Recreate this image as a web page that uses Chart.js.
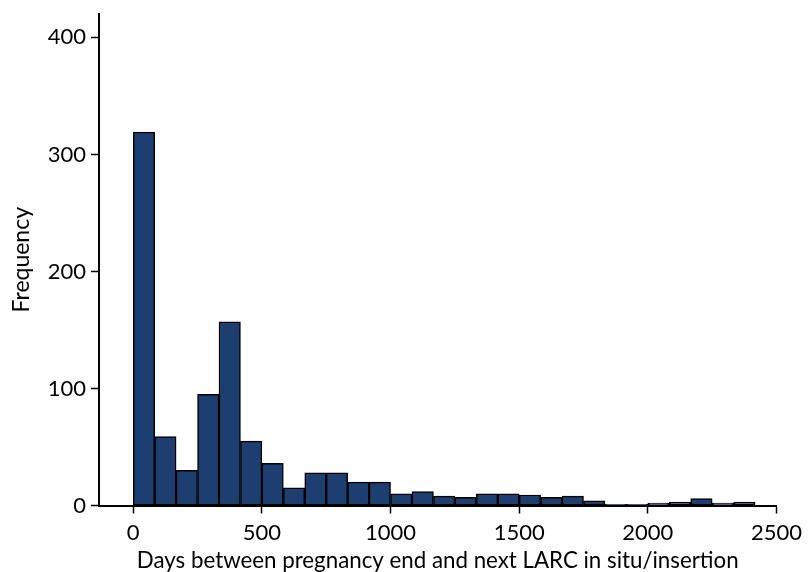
<!DOCTYPE html>
<html>
<head>
<meta charset="utf-8">
<script src="https://cdn.jsdelivr.net/npm/chart.js@4.4.1/dist/chart.umd.min.js"></script>
<style>
  html, body { margin: 0; padding: 0; background: #ffffff; }
  #wrap { width: 808px; height: 572px; }
</style>
</head>
<body>
<div id="wrap"><canvas id="c" width="808" height="572"></canvas></div>
<script>
// Histogram bins (days), bin width = 500/6 days
const binWidth = 500 / 6;
const binStarts = [0, 83.33, 166.67, 250, 333.33, 416.67, 500, 583.33, 666.67, 750,
  833.33, 916.67, 1000, 1083.33, 1166.67, 1250, 1333.33, 1416.67, 1500, 1583.33,
  1666.67, 1750, 1833.33, 1916.67, 2000, 2083.33, 2166.67, 2250, 2333.33];
const frequencies = [319, 59, 30, 95, 157, 55, 36, 15, 28, 28,
  20, 20, 10, 12, 8, 7, 10, 10, 9, 7,
  8, 4, 1, 1, 2, 3, 6, 2, 3];
const xTickValues = [0, 500, 1000, 1500, 2000, 2500];
const yTickValues = [0, 100, 200, 300, 400];
const xTitle = 'Days between pregnancy end and next LARC in situ/insertion';
const yTitle = 'Frequency';

const points = binStarts.map((s, i) => ({ x: s + binWidth / 2, y: frequencies[i] }));
const FONT = 'Lato';

new Chart(document.getElementById('c'), {
  type: 'bar',
  data: {
    datasets: [{
      data: points,
      backgroundColor: '#1c3e70',
      borderColor: '#000000',
      borderWidth: 1.5,
      borderSkipped: false,
      barPercentage: 1,
      categoryPercentage: 1
    }]
  },
  options: {
    responsive: false,
    animation: false,
    devicePixelRatio: 1,
    layout: { padding: { top: 14, right: 30, left: 0, bottom: 0 } },
    plugins: { legend: { display: false }, tooltip: { enabled: false } },
    scales: {
      x: {
        type: 'linear',
        min: -133,
        max: 2500,
        offset: false,
        grid: { offset: false, drawOnChartArea: false, drawTicks: true, tickLength: 8, tickWidth: 1.5, tickColor: '#000' },
        border: { display: true, color: '#000', width: 2 },
        afterBuildTicks: (s) => { s.ticks = xTickValues.map(v => ({ value: v })); },
        afterFit: (s) => { s.height = 66.5; },
        ticks: {
          includeBounds: false,
          padding: 6,
          color: '#000',
          font: { family: FONT, size: 22 },
          maxRotation: 0,
          callback: (v) => String(v)
        },
        title: {
          display: true,
          text: xTitle,
          color: '#000',
          font: { family: FONT, size: 22.3 },
          padding: { top: 0, bottom: -2 }
        }
      },
      y: {
        min: 0,
        max: 420,
        grid: { drawOnChartArea: false, drawTicks: true, tickLength: 8, tickWidth: 1.5, tickColor: '#000' },
        border: { display: true, color: '#000', width: 2 },
        afterBuildTicks: (s) => { s.ticks = yTickValues.map(v => ({ value: v })); },
        afterFit: (s) => { s.width = 99; s.paddingTop = 0; s.paddingBottom = 0; },
        ticks: {
          includeBounds: false,
          padding: 5,
          color: '#000',
          font: { family: FONT, size: 22 },
          callback: (v) => String(v)
        },
        title: {
          display: true,
          text: yTitle,
          color: '#000',
          font: { family: FONT, size: 23 },
          padding: { top: 8, bottom: 0 }
        }
      }
    }
  }
});
</script>
</body>
</html>
